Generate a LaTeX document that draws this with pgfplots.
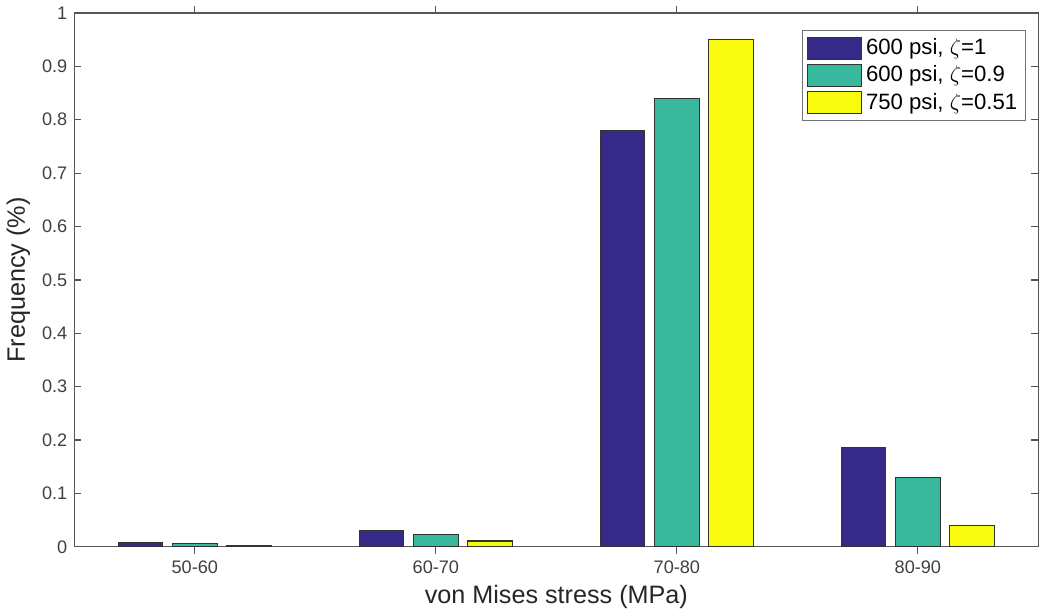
\documentclass[border=0pt]{standalone}
\usepackage{pgfplots}
\pgfplotsset{compat=1.18}
\usepackage{fontspec}
\setmainfont{Liberation Sans}
\definecolor{cA}{HTML}{352A87}
\definecolor{cB}{HTML}{38B99E}
\definecolor{cC}{HTML}{F9FB0E}
\definecolor{axc}{HTML}{555555}
\begin{document}
\begin{tikzpicture}
\begin{axis}[
  scale only axis,
  width=478.5pt, height=265pt,
  xmin=0.5, xmax=4.5, ymin=0, ymax=1,
  xtick={1,2,3,4},
  xticklabels={50-60,60-70,70-80,80-90},
  ytick={0,0.1,...,1},
  yticklabel style={/pgf/number format/fixed,/pgf/number format/precision=1},
  /pgf/number format/assume math mode=true,
  tick label style={font=\fontsize{9}{10}\selectfont, text=black!75},
  xlabel={von Mises stress (MPa)},
  ylabel={Frequency (\%)},
  label style={font=\fontsize{12.5}{14}\selectfont, text=black!85},
  xlabel style={yshift=1pt},
  ylabel style={yshift=-1pt},
  axis line style={axc, line width=0.6pt},
  major tick style={axc, line width=0.6pt},
  major tick length=3.5pt,
  tick align=inside,
  ybar,
  bar width=0.184,
  legend style={at={(0.987,0.968)}, anchor=north east, draw=black!55, line width=0.6pt,
    font=\fontsize{11}{13}\selectfont, cells={anchor=west}, row sep=0pt, inner xsep=2pt, inner ysep=2pt},
  legend image code/.code={\draw[#1, draw=black!80, line width=0.5pt] (0pt,-5.5pt) rectangle (27pt,5.5pt);},
]
\addplot[fill=cA, draw=black!80, line width=0.5pt, bar shift=-0.225] coordinates {(1,0.008) (2,0.030) (3,0.780) (4,0.186)};
\addplot[fill=cB, draw=black!80, line width=0.5pt, bar shift=0] coordinates {(1,0.006) (2,0.024) (3,0.840) (4,0.130)};
\addplot[fill=cC, draw=black!80, line width=0.5pt, bar shift=0.225] coordinates {(1,0.002) (2,0.011) (3,0.950) (4,0.040)};
\legend{{600 psi, $\zeta$=1},{600 psi, $\zeta$=0.9},{750 psi, $\zeta$=0.51}}
\end{axis}
\end{tikzpicture}
\end{document}
